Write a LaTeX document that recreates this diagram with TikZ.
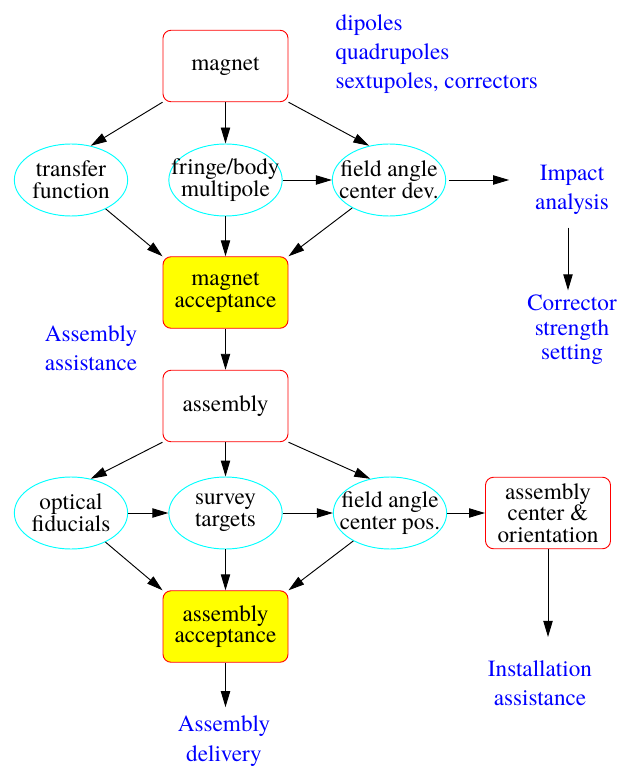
\documentclass[tikz,border=0pt]{standalone}
\usepackage{fontspec}
\setmainfont{texgyretermes-regular.otf}
\usetikzlibrary{arrows.meta,
	shapes.geometric,
	positioning}
\definecolor{ovalcyan}{RGB}{0,255,255}
\definecolor{accyellow}{RGB}{255,255,0}
\definecolor{boxred}{RGB}{255,0,0}
\definecolor{notblue}{RGB}{0,0,255}

\begin{document}
\begin{tikzpicture}[x=0.75pt,y=-0.75pt,
	font=\fontsize{17.4}{16.3}\selectfont,
	box/.style={draw=boxred,line width=0.7pt,rounded corners=6pt,minimum width=93.75pt,minimum height=53.6pt,align=center,inner sep=2pt},
	accbox/.style={box,fill=accyellow},
	oval/.style={draw=ovalcyan,line width=0.7pt,ellipse,minimum width=85pt,minimum height=54pt,inner xsep=-12pt,inner ysep=0pt,align=center},
	note/.style={text=notblue,align=center,font=\fontsize{17.4}{22}\selectfont},
	arr/.style={-{Triangle[length=12pt,width=7pt]},line width=0.7pt}]
	\useasboundingbox (0,0) rectangle (629,766);
	% magnet part
	\node[box] (magnet) at (225.5,66) {magnet};
	\node[note,align=left,anchor=west] (types) at (331,54) {dipoles\\quadrupoles\\sextupoles, correctors};
	\node[oval] (tf) at (71,180) {transfer\\function};
	\node[oval] (fb) at (225.5,180) {fringe/body\\multipole};
	\node[oval] (fa) at (389,180) {field angle\\center dev.};
	\node[note] (impact) at (572,190) {Impact\\analysis};
	\node[note,font=\fontsize{17.4}{18.4}\selectfont] (corr) at (572,330) {Corrector\\strength\\setting};
	\node[accbox] (macc) at (225.5,292.5) {magnet\\acceptance};
	\node[note] (asmhelp) at (91,348) {Assembly\\assistance};
	% assembly part
	\node[box] (asm) at (225.5,406) {assembly};
	\node[oval] (of) at (71,513) {optical\\fiducials};
	\node[oval] (st) at (225.5,513) {survey\\targets};
	\node[oval] (fp) at (390,513) {field angle\\center pos.};
	\node[box,font=\fontsize{17.4}{16}\selectfont] (acen) at (548,513) {assembly\\center \&\\orientation};
	\node[accbox] (aacc) at (225.5,626.5) {assembly\\acceptance};
	\node[note] (install) at (540,683) {Installation\\assistance};
	\node[note] (deliv) at (224,741) {Assembly\\delivery};

	\foreach \top/\row/\acc in {magnet/tf/macc,asm/of/aacc} {
		\draw[arr] (\top.south west) -- (\row.60);
		\draw[arr] (\row) -- (\acc.north west);
	}
	\foreach \top/\row/\acc in {magnet/fa/macc,asm/fp/aacc} {
		\draw[arr] (\top.south east) -- (\row.120);
		\draw[arr] (\row) -- (\acc.north east);
	}
	\foreach \top/\row/\acc in {magnet/fb/macc,asm/st/aacc} {
		\draw[arr] (\top) -- (\row);
		\draw[arr] (\row) -- (\acc);
	}
	\draw[arr] (fb) -- (fa);
	\draw[arr,shorten <=2pt,shorten >=16pt] (fa.east) -- (fa.east -| impact.west);
	\draw[arr,shorten <=6pt] ([xshift=-3pt]impact.south) -- ([xshift=-3pt]corr.north);
	\draw[arr] (macc) -- (asm);
	\draw[arr] (of) -- (st);
	\draw[arr] (st) -- (fp);
	\draw[arr] (fp) -- (acen);
	\draw[arr,shorten >=14pt] (acen.south) -- (acen.south |- install.north);
	\draw[arr,shorten >=3pt] (aacc.south) -- (aacc.south |- deliv.north);
\end{tikzpicture}
\end{document}
